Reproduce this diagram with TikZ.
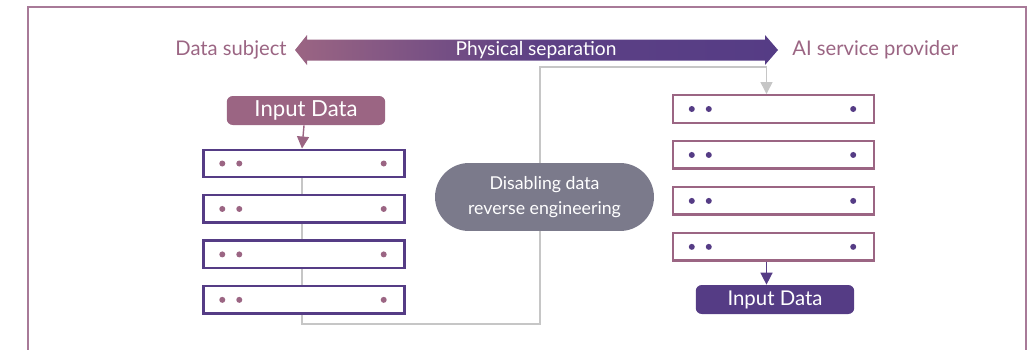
\documentclass[tikz,border=0pt]{standalone}
\usepackage{fontspec}
\setmainfont{Lato}
\usetikzlibrary{arrows.meta,positioning,calc}
\definecolor{figmauve}{HTML}{9B6583}
\definecolor{figpurple}{HTML}{553C85}
\definecolor{figgray}{HTML}{7B7A8B}
\definecolor{figline}{HTML}{C6C6C6}
\definecolor{figframe}{HTML}{A87A98}
\tikzset{
  server/.style={
    rectangle, draw=#1, fill=white, line width=1.4pt,
    minimum width=4.02cm, minimum height=0.55cm, inner sep=0pt
  },
  databox/.style={
    rectangle, rounded corners=0.12cm, fill=#1, text=white,
    minimum width=3.17cm, minimum height=0.58cm, inner sep=0pt,
    font=\fontsize{12.6}{14}\selectfont
  },
  pill/.style={
    rectangle, rounded corners=0.68cm, fill=figgray, text=white,
    minimum width=4.38cm, minimum height=1.36cm, align=center,
    inner sep=0pt, font=\fontsize{10.1}{14.5}\selectfont
  },
  side/.style={text=figmauve, inner sep=0pt, font=\fontsize{11.5}{13}\selectfont},
  link/.style={draw=figline, line width=0.8pt},
  arrow/.style={-{Triangle[width=0.24cm, length=0.24cm]}, line width=0.8pt}
}

\begin{document}
\begin{tikzpicture}[x=0.02cm, y=-0.02cm]
  \useasboundingbox (0,0) rectangle (1032,349);
  % frame
  \draw[figframe, line width=0.8pt] (28,352) -- (28,7) -- (1026,7) -- (1026,352);

  % separation arrow
  \shade[left color=figmauve, right color=figpurple, middle color=figpurple!88!figmauve]
    (295,50) -- (307,35) -- (307,39.5) -- (765,39.5) -- (765,35) -- (778,50)
    -- (765,65) -- (765,60.5) -- (307,60.5) -- (307,65) -- cycle;
  \node[text=white, inner sep=0pt, font=\fontsize{10.9}{12}\selectfont] (sep) at (536,50) {Physical separation};
  \node[side, anchor=east] (subject) at (287,50) {Data subject};
  \node[side, anchor=west] (provider) at (792,50) {AI service provider};

  % data subject side
  \node[databox=figmauve] (inL) at (306,110.5) {Input Data};
  \node[server=figpurple] (l1) at (304,163.5) {};
  \node[server=figpurple, below=0.31cm of l1] (l2) {};
  \node[server=figpurple, below=0.31cm of l2] (l3) {};
  \node[server=figpurple, below=0.31cm of l3] (l4) {};

  % provider side
  \node[server=figmauve] (r1) at (773.5,109) {};
  \node[server=figmauve, below=0.32cm of r1] (r2) {};
  \node[server=figmauve, below=0.32cm of r2] (r3) {};
  \node[server=figmauve, below=0.32cm of r3] (r4) {};
  \node[databox=figpurple, font=\fontsize{11.6}{14}\selectfont] (inR) at (775,299.5) {Input Data};

  % dots
  \foreach \s/\c in {l1/figmauve,l2/figmauve,l3/figmauve,l4/figmauve,
                     r1/figpurple,r2/figpurple,r3/figpurple,r4/figpurple} {
    \fill[\c] ([xshift=0.4cm]\s.west) circle (0.06cm);
    \fill[\c] ([xshift=0.74cm]\s.west) circle (0.06cm);
    \fill[\c] ([xshift=-0.44cm]\s.east) circle (0.06cm);
  }

  % transfer path
  \coordinate (lowturn) at (540,324);
  \coordinate (highturn) at (540,67);
  \foreach \a/\b in {l1/l2,l2/l3,l3/l4}
    \draw[link] ([xshift=-0.04cm]\a.south) -- ([xshift=-0.04cm]\b.north);
  \draw[link, arrow, figline] ([xshift=-0.04cm]l4.south) |- (lowturn) -- (highturn)
    -| ([xshift=-0.14cm]r1.north);
  \node[pill] (disable) at (544.5,197) {Disabling data\\reverse engineering};

  \draw[arrow, figmauve] ([xshift=-0.04cm]inL.south |- inL.south) -- ([xshift=-0.04cm]l1.north);
  \draw[arrow, figpurple] ([xshift=-0.14cm]r4.south) -- ([xshift=-0.14cm]r4.south |- inR.north);
\end{tikzpicture}
\end{document}
